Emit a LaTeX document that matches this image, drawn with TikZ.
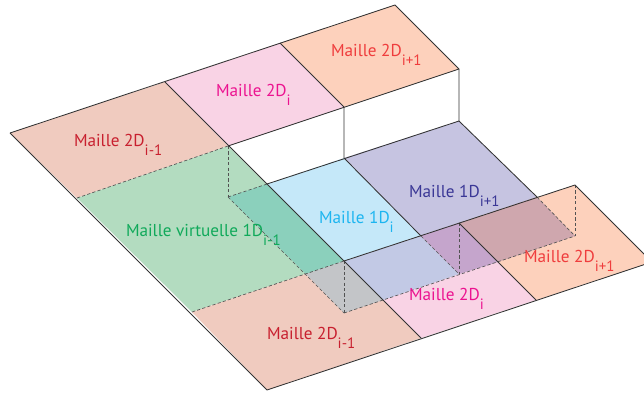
\documentclass[tikz,border=0pt]{standalone}
\usepackage{fontspec}
\setmainfont{PT Sans}
\definecolor{cA}{HTML}{F0CBBF}
\definecolor{cB}{HTML}{F9D3E5}
\definecolor{cC}{HTML}{FDD1BC}
\definecolor{cG}{HTML}{B3DCC0}
\definecolor{cT}{HTML}{8BD0BC}
\definecolor{cU}{HTML}{C5E8F9}
\definecolor{cV}{HTML}{C6C4E1}
\definecolor{cW}{HTML}{C2C9E5}
\definecolor{cP}{HTML}{C5A5CC}
\definecolor{cM}{HTML}{CFA7AE}
\definecolor{cY}{HTML}{C3C5C8}
\definecolor{tA}{HTML}{C8202F}
\definecolor{tB}{HTML}{EC1390}
\definecolor{tC}{HTML}{EF3D3D}
\definecolor{tV}{HTML}{3A3796}
\definecolor{tU}{HTML}{1DB5F0}
\definecolor{tG}{HTML}{10A95A}
\definecolor{ln}{HTML}{333333}
\newcommand{\mysb}[1]{\raisebox{-9pt}{\fontsize{15}{15}\selectfont #1}}
\tikzset{
  solidline/.style={draw=ln,line width=0.85pt,line join=round},
  dashline/.style={draw=ln!85,line width=0.65pt,dash pattern=on 3.2pt off 2.2pt},
  lab/.style={anchor=base west,inner sep=0pt,outer sep=0pt,font=\fontsize{17.2}{17.2}\selectfont}
}
\begin{document}
\begin{tikzpicture}[x=1pt,y=-1pt]
\useasboundingbox (0,0) rectangle (644,392);
\clip (0,0) rectangle (644,392);
% upper level
\coordinate (a1) at (10,133);
\coordinate (a2) at (165,82);
\coordinate (a3) at (280,43);
\coordinate (a4) at (395,5);
\coordinate (b1) at (77,198);
\coordinate (b2) at (228,146);
\coordinate (b3) at (344,107);
\coordinate (b4) at (459,69);
% channel
\coordinate (c1) at (267,184);
\coordinate (c2) at (344,158);
\coordinate (c3) at (459,121);
\coordinate (d0) at (192,312);
\coordinate (d1) at (306,274);
\coordinate (d2) at (344,261);
\coordinate (d3) at (421,236);
\coordinate (d4) at (459,223);
\coordinate (d5) at (537,197);
\coordinate (d6) at (575,185);
\coordinate (e0) at (228,197);
\coordinate (e1) at (344,313);
\coordinate (e2) at (383,300);
\coordinate (e3) at (459,274);
\coordinate (e4) at (498,262);
\coordinate (e5) at (575,236);
\coordinate (f1) at (267,390);
\coordinate (f2) at (421,338);
\coordinate (f3) at (536,300);
\coordinate (f4) at (652,262);
% fills
\fill[cA] (a1)--(a2)--(b2)--(b1)--cycle;
\fill[cB] (a2)--(a3)--(b3)--(b2)--cycle;
\fill[cC] (a3)--(a4)--(b4)--(b3)--cycle;
\fill[cG] (b1)--(b2)--(d2)--(d0)--cycle;
\fill[cU] (c1)--(c2)--(d3)--(d2)--cycle;
\fill[cV] (c2)--(c3)--(d5)--(d3)--cycle;
\fill[cA] (d0)--(d2)--(f2)--(f1)--cycle;
\fill[cB] (d2)--(d4)--(f3)--(f2)--cycle;
\fill[cC] (d4)--(d6)--(f4)--(f3)--cycle;
\fill[cT] (e0)--(c1)--(d2)--(d1)--cycle;
\fill[cY] (d1)--(d2)--(e2)--(e1)--cycle;
\fill[cW] (d2)--(d3)--(e3)--(e2)--cycle;
\fill[cP] (d3)--(d4)--(e4)--(e3)--cycle;
\fill[cM] (d4)--(d5)--(e5)--(e4)--cycle;
% dashed
\draw[dashline] (b1)--(b2);
\draw[dashline] (d0)--(d2);
\draw[dashline] (b2)--(e0);
\draw[dashline] (e0)--(c1);
\draw[dashline] (e0)--(e1);
\draw[dashline] (d2)--(e1);
\draw[dashline] (e1)--(e5);
\draw[dashline] (d3)--(e3);
\draw[dashline] (d4)--(e3);
\draw[dashline] (d5)--(e5);
\draw[dashline] (d6)--(e5);
% solid
\draw[solidline] (a1)--(a4)--(b4)--(b2);
\draw[solidline] (a1)--(f1)--(f4)--(d6)--(d2);
\draw[solidline] (a2)--(d2)--(f2);
\draw[solidline] (a3)--(b3)--(c2);
\draw[solidline] (b4)--(c3)--(c1);
\draw[solidline] (c2)--(d3);
\draw[solidline] (c3)--(d5);
\draw[solidline] (d4)--(f3);
% labels
\node[lab,text=tA] (l1) at (74,146) {Maille 2D\mysb{i-1}};
\node[lab,text=tB] (l2) at (216,96) {Maille 2D\mysb{i}};
\node[lab,text=tC] (l3) at (331,56) {Maille 2D\mysb{i+1}};
\node[lab,text=tV] (l4) at (409,197) {Maille 1D\mysb{i+1}};
\node[lab,text=tU] (l5) at (319,223) {Maille 1D\mysb{i}};
\node[lab,text=tG] (l6) at (126,236) {Maille virtuelle 1D\mysb{i-1}};
\node[lab,text=tA] (l7) at (267,339) {Maille 2D\mysb{i-1}};
\node[lab,text=tB] (l8) at (409,300) {Maille 2D\mysb{i}};
\node[lab,text=tC] (l9) at (524,262) {Maille 2D\mysb{i+1}};
\end{tikzpicture}
\end{document}
